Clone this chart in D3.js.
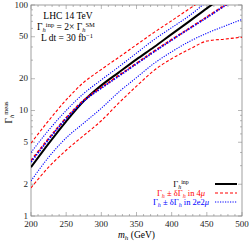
<!DOCTYPE html>
<html>
<head>
<meta charset="utf-8">
<script src="https://cdn.jsdelivr.net/npm/d3@7"></script>
<style>
  body { margin: 0; background: #fff; }
</style>
</head>
<body>
<div id="chart"></div>
<script>
// masses (GeV) and widths
const masses = [200, 225, 250, 275, 300, 325, 350, 375, 400, 425, 450, 475, 500];
const gammaInp = [2.9, 4.85, 7.9, 12.3, 17.3, 23, 30.5, 40, 53, 70, 93, 122, 160];
const red4muCentral = [3.35, 5.4, 8.5, 12.5, 16.5, 21.5, 28, 36.5, 47, 60, 77, 99, 127];
const red4muUp = [4.9, 8.0, 12.6, 18.5, 24.5, 32, 42, 55, 71, 92, 118, 150, 190];
const red4muDown = [1.85, 2.9, 4.2, 5.8, 8.0, 11.8, 17, 24, 31, 38, 45.5, 47.5, 49.5];
const blue2e2muCentral = [3.25, 5.3, 8.4, 12.3, 16.3, 21.2, 27.7, 36, 46.5, 59.5, 76, 98, 126];
const blue2e2muUp = [4.0, 6.5, 10.0, 14.5, 19.5, 26, 35, 47, 61, 79, 107, 140, 180];
const blue2e2muDown = [2.15, 3.6, 5.5, 7.6, 10.5, 15, 20.5, 28, 36, 45, 54, 63, 73];

const xTickLabels = [200, 250, 300, 350, 400, 450, 500];
const yTickLabels = [1, 2, 5, 10, 20, 50, 100];

const W = 250, H = 242;
const margin = {top: 5, right: 8, bottom: 26, left: 31};
const serif = "'Liberation Serif', 'DejaVu Serif', serif";

const svg = d3.select("#chart").append("svg")
  .attr("width", W).attr("height", H)
  .attr("font-family", serif);

const x = d3.scaleLinear().domain([200, 500]).range([margin.left, W - margin.right]);
const y = d3.scaleLog().domain([1, 100]).range([H - margin.bottom, margin.top]);

svg.append("clipPath").attr("id", "plotClip")
  .append("rect")
  .attr("x", x(200)).attr("y", y(100))
  .attr("width", x(500) - x(200)).attr("height", y(1) - y(100));

const frameColor = "#888";

// frame ticks (inside, all four sides)
const xMinor = d3.range(200, 501, 10);
const yMinor = [];
[1, 10].forEach(d => { for (let k = 1; k <= 9; k++) yMinor.push(d * k); });
yMinor.push(100);

const ticks = svg.append("g").attr("stroke", frameColor).attr("stroke-width", 0.6);
xMinor.forEach(v => {
  const len = v % 50 === 0 ? 4 : 2;
  ticks.append("line").attr("x1", x(v)).attr("x2", x(v)).attr("y1", y(1)).attr("y2", y(1) - len);
  ticks.append("line").attr("x1", x(v)).attr("x2", x(v)).attr("y1", y(100)).attr("y2", y(100) + len);
});
yMinor.forEach(v => {
  const len = yTickLabels.includes(v) ? 4 : 2;
  ticks.append("line").attr("x1", x(200)).attr("x2", x(200) + len).attr("y1", y(v)).attr("y2", y(v));
  ticks.append("line").attr("x1", x(500)).attr("x2", x(500) - len).attr("y1", y(v)).attr("y2", y(v));
});

svg.append("rect")
  .attr("x", x(200)).attr("y", y(100))
  .attr("width", x(500) - x(200)).attr("height", y(1) - y(100))
  .attr("fill", "none").attr("stroke", frameColor).attr("stroke-width", 0.8);

// tick labels
svg.append("g").selectAll("text").data(xTickLabels).join("text")
  .attr("x", d => x(d)).attr("y", y(1) + 11)
  .attr("text-anchor", "middle").attr("font-size", 9).attr("fill", "#222")
  .text(d => d);

svg.append("g").selectAll("text").data(yTickLabels).join("text")
  .attr("x", x(200) - 3).attr("y", d => y(d) + 2.5)
  .attr("text-anchor", "end").attr("font-size", 9).attr("fill", "#222")
  .text(d => d);

// axis titles
const xt = svg.append("text")
  .attr("x", (x(200) + x(500)) / 2).attr("y", H - 4)
  .attr("text-anchor", "middle").attr("font-size", 9.5);
xt.append("tspan").attr("font-style", "italic").text("m");
xt.append("tspan").attr("font-style", "italic").attr("font-size", 7).attr("dy", 2).text("h");
xt.append("tspan").attr("dy", -2).text(" (GeV)");

const yt = svg.append("text")
  .attr("transform", `translate(12,${(y(1) + y(100)) / 2 + 2}) rotate(-90)`)
  .attr("text-anchor", "middle").attr("font-size", 9.5);
yt.append("tspan").text("Γ");
yt.append("tspan").attr("font-style", "italic").attr("font-size", 6.5).attr("dy", 2).text("h");
yt.append("tspan").attr("font-size", 6.5).attr("dy", -6).text("meas");

// curves
const series = [
  {vals: red4muUp, color: "#f00", width: 1.1, dash: "3,2"},
  {vals: red4muDown, color: "#f00", width: 1.1, dash: "3,2"},
  {vals: blue2e2muUp, color: "#00f", width: 1.1, dash: "1.2,1.3"},
  {vals: blue2e2muDown, color: "#00f", width: 1.1, dash: "1.2,1.3"},
  {vals: gammaInp, color: "#000", width: 2, dash: null},
  {vals: red4muCentral, color: "#f00", width: 1.8, dash: "3,2"},
  {vals: blue2e2muCentral, color: "#00f", width: 1.8, dash: "1.4,1.4"}
];

const line = d3.line()
  .x((d, i) => x(masses[i]))
  .y(d => y(d))
  .curve(d3.curveMonotoneX);

const plot = svg.append("g").attr("clip-path", "url(#plotClip)");
series.forEach(s => {
  plot.append("path")
    .attr("d", line(s.vals))
    .attr("fill", "none")
    .attr("stroke", s.color)
    .attr("stroke-width", s.width)
    .attr("stroke-dasharray", s.dash);
});

// annotation
const note = svg.append("g").attr("font-size", 9.5).attr("text-anchor", "middle");
note.append("text").attr("x", 68).attr("y", 19).text("LHC 14 TeV");
const n2 = note.append("text").attr("x", 66).attr("y", 30);
n2.append("tspan").text("Γ");
n2.append("tspan").attr("font-style", "italic").attr("font-size", 6.5).attr("dy", 2).text("h");
n2.append("tspan").attr("font-size", 6.5).attr("dy", -5.5).text("inp");
n2.append("tspan").attr("dy", 3.5).text(" = 2× Γ");
n2.append("tspan").attr("font-style", "italic").attr("font-size", 6.5).attr("dy", 2).text("h");
n2.append("tspan").attr("font-size", 6.5).attr("dy", -5.5).text("SM");
const n3 = note.append("text").attr("x", 67).attr("y", 41);
n3.append("tspan").text("L dt = 30 fb");
n3.append("tspan").attr("font-size", 6.5).attr("dy", -3.5).text("−1");

// legend
const legend = [
  {color: "#000", width: 2, dash: null, parts: [["Γ", 8.5, 0, null], ["h", 6, 1.5, "italic"], ["inp", 6, -5, null]]},
  {color: "#f00", width: 1.1, dash: "3,2", parts: [["Γ", 8.5, 0, null], ["h", 6, 1.5, "italic"], [" ± δΓ", 8.5, -1.5, null], ["h", 6, 1.5, "italic"], [" in 4", 8.5, -1.5, null], ["μ", 8.5, 0, "italic"]]},
  {color: "#00f", width: 1.1, dash: "1.2,1.3", parts: [["Γ", 8.5, 0, null], ["h", 6, 1.5, "italic"], [" ± δΓ", 8.5, -1.5, null], ["h", 6, 1.5, "italic"], [" in 2e2", 8.5, -1.5, null], ["μ", 8.5, 0, "italic"]]}
];
const legY = [184, 193, 202];
legend.forEach((l, i) => {
  const t = svg.append("text").attr("x", 181).attr("y", legY[i] + 3)
    .attr("text-anchor", "middle").attr("fill", l.color).attr("font-size", 8.5);
  l.parts.forEach(p => {
    t.append("tspan").attr("font-size", p[1]).attr("dy", p[2])
      .attr("font-style", p[3]).text(p[0]);
  });
  svg.append("line")
    .attr("x1", 215).attr("x2", 237).attr("y1", legY[i]).attr("y2", legY[i])
    .attr("stroke", l.color).attr("stroke-width", l.width)
    .attr("stroke-dasharray", l.dash);
});
</script>
</body>
</html>
